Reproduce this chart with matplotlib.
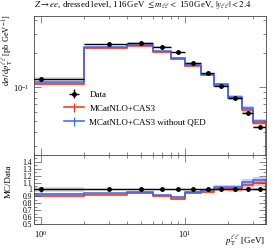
import numpy as np
import matplotlib
matplotlib.use("Agg")
import matplotlib.pyplot as plt
from matplotlib.ticker import LogLocator, NullFormatter, FixedLocator, MultipleLocator

# ---- data ----
bin_edges = [0, 2, 4, 6, 8, 10, 13, 16, 20, 25, 30, 37]
data_vals = [0.118, 0.241, 0.249, 0.229, 0.205, 0.164, 0.133, 0.102, 0.0793, 0.059, 0.0437]
data_relerr = [0.04, 0.012, 0.010, 0.010, 0.010, 0.010, 0.010, 0.010, 0.012, 0.014, 0.018]
mc_cas3 = [0.1066, 0.2224, 0.2346, 0.2059, 0.1763, 0.1551, 0.1285, 0.1030, 0.0793, 0.0625, 0.0476]
mc_cas3_relerr = [0.012, 0.010, 0.010, 0.012, 0.012, 0.015, 0.018, 0.025, 0.03, 0.035, 0.04]
mc_noqed = [0.1100, 0.2270, 0.2393, 0.2091, 0.1833, 0.1584, 0.1317, 0.1061, 0.0817, 0.0655, 0.0494]
mc_noqed_relerr = [0.012, 0.010, 0.010, 0.012, 0.012, 0.015, 0.018, 0.025, 0.03, 0.035, 0.05]

labels = ["Data", "MCatNLO+CAS3", "MCatNLO+CAS3 without QED"]
title = r"$Z \rightarrow ee$, dressed level, 116$\,$GeV $\leq m_{\ell\ell} <$ 150$\,$GeV, $|y_{\ell\ell}| < 2.4$"
ylabel_main = r"$\mathrm{d}\sigma\,/\,\mathrm{d}p_\mathrm{T}^{\ell\ell}$ [pb GeV$^{-1}$]"
ylabel_ratio = "MC/Data"
xlabel = r"$p_\mathrm{T}^{\ell\ell}$ [GeV]"
ratio_ticks = [0.5, 0.6, 0.7, 0.8, 0.9, 1.0, 1.1, 1.2, 1.3, 1.4]
ratio_ticklabels = ["0.5", "0.6", "0.7", "0.8", "0.9", "1", "1.1", "1.2", "1.3", "1.4"]

plt.rcParams['font.family'] = ['Liberation Serif', 'DejaVu Serif']
plt.rcParams['mathtext.fontset'] = 'stix'

RED = "#EE3311"
BLUE = "#3366FF"

edges = np.array(bin_edges, float)
centers = 0.5 * (edges[:-1] + edges[1:])
halfw = 0.5 * (edges[1:] - edges[:-1])
d = np.array(data_vals)
derr = np.array(data_relerr)

fig = plt.figure(figsize=(2.74, 2.48), dpi=100)
ax = fig.add_axes([0.124, 0.375, 0.845, 0.56])
rax = fig.add_axes([0.124, 0.097, 0.845, 0.278], sharex=ax)

def band(a, vals, rel, color, alpha):
    v = np.array(vals)
    lo = np.append(v * (1 - np.array(rel)), v[-1] * (1 - rel[-1]))
    hi = np.append(v * (1 + np.array(rel)), v[-1] * (1 + rel[-1]))
    a.fill_between(edges, lo, hi, step='post', color=color, alpha=alpha, lw=0)

# main panel
band(ax, mc_cas3, mc_cas3_relerr, RED, 0.3)
band(ax, mc_noqed, mc_noqed_relerr, BLUE, 0.3)
ax.stairs(mc_cas3, edges, color=RED, lw=1.1)
ax.stairs(mc_noqed, edges, color=BLUE, lw=1.1)
band(ax, data_vals, data_relerr, "#999999", 0.35)
ax.errorbar(centers, d, xerr=halfw, yerr=d * derr, fmt='o', ms=2.5, color='black',
            elinewidth=1.0, capsize=0, zorder=5)

ax.set_xscale('log')
ax.set_yscale('log')
ax.set_xlim(0.895, 36.5)
ax.set_ylim(0.0247, 0.43)

# legend (Rivet style)
h1 = ax.errorbar([], [], xerr=[], yerr=[], fmt='o', ms=2.5, color='black', elinewidth=1.0)
h2 = ax.errorbar([], [], yerr=[], color=RED, lw=1.1, elinewidth=0.8)
h3 = ax.errorbar([], [], yerr=[], color=BLUE, lw=1.1, elinewidth=0.8)
leg = ax.legend([h1, h2, h3], labels, loc='upper left', bbox_to_anchor=(0.13, 0.465),
                frameon=False, fontsize=6.5, handlelength=2.2, handletextpad=0.6,
                labelspacing=0.62, borderaxespad=0.0, borderpad=0.0)

ax.text(0.0, 1.035, title, transform=ax.transAxes, fontsize=6.4, ha='left', va='bottom')
ax.set_ylabel(ylabel_main, fontsize=6.0)
ax.yaxis.set_label_coords(-0.082, 0.755)

for a in (ax, rax):
    a.tick_params(which='both', direction='in', top=True, right=True, labelsize=6,
                  width=0.5, color='#555555')
    a.tick_params(which='major', length=5)
    a.tick_params(which='minor', length=2.5)
    for s in a.spines.values():
        s.set_linewidth(0.6)
        s.set_color('#444444')

ax.yaxis.set_major_locator(LogLocator(base=10, numticks=10))
ax.yaxis.set_minor_locator(LogLocator(base=10, subs=np.arange(2, 10), numticks=10))
ax.yaxis.set_minor_formatter(NullFormatter())
ax.tick_params(axis='x', labelbottom=False)

# ratio panel
rr = np.array(mc_cas3) / d
rb = np.array(mc_noqed) / d

def rband(vals, rel, color, alpha):
    v = np.asarray(vals)
    lo = np.append(v * (1 - np.array(rel)), v[-1] * (1 - rel[-1]))
    hi = np.append(v * (1 + np.array(rel)), v[-1] * (1 + rel[-1]))
    rax.fill_between(edges, lo, hi, step='post', color=color, alpha=alpha, lw=0)

rband(np.ones_like(d), data_relerr, "#999999", 0.35)
rband(rr, mc_cas3_relerr, RED, 0.3)
rband(rb, mc_noqed_relerr, BLUE, 0.3)
rax.axhline(1.0, color='#333333', lw=0.8)
rax.stairs(rr, edges, color=RED, lw=1.1)
rax.stairs(rb, edges, color=BLUE, lw=1.1)
rax.errorbar(centers, np.ones_like(d), xerr=halfw, yerr=derr, fmt='o', ms=2.5,
             color='black', elinewidth=1.0, capsize=0, zorder=5)
rax.set_ylim(0.5, 1.5)
rax.yaxis.set_major_locator(FixedLocator(ratio_ticks))
rax.set_yticklabels(ratio_ticklabels)
rax.yaxis.set_minor_locator(MultipleLocator(0.05))
rax.tick_params(axis='y', labelsize=5.5, pad=1.5)
rax.set_ylabel(ylabel_ratio, fontsize=6.5)
rax.yaxis.set_label_coords(-0.09, 0.62)
rax.xaxis.set_minor_formatter(NullFormatter())
fig.text(0.969, 0.03, xlabel, fontsize=6.5, ha='right', va='center')

fig.savefig("out.png", dpi=100)
